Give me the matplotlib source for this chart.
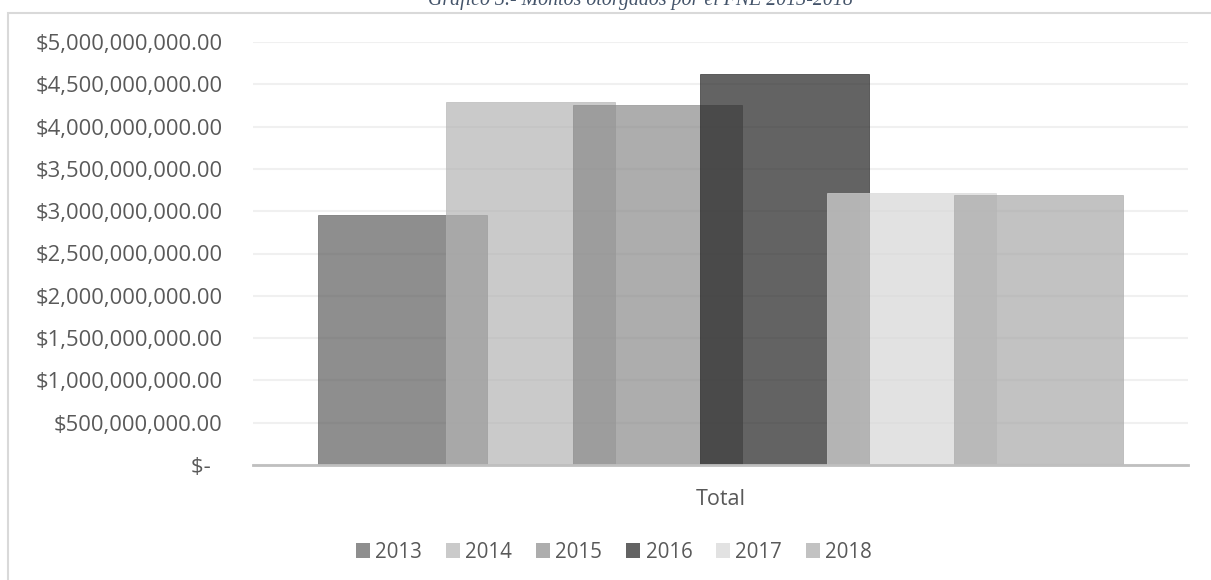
import matplotlib.pyplot as plt
import matplotlib.patches as mpatches
from matplotlib.ticker import FuncFormatter

years = ["2013", "2014", "2015", "2016", "2017", "2018"]
montos = [2.95e9, 4.29e9, 4.25e9, 4.62e9, 3.215e9, 3.195e9]
colores = ["#5e5e5e", "#b4b4b4", "#8a8a8a", "#212121", "#d7d7d7", "#a8a8a8"]
categoria = "Total"
yticks = [0, 5e8, 1e9, 1.5e9, 2e9, 2.5e9, 3e9, 3.5e9, 4e9, 4.5e9, 5e9]
titulo = "Gráfico 3.- Montos otorgados por el FNE 2013-2018"

TEXT_C = "#595959"
plt.rcParams['font.family'] = ['Open Sans', 'DejaVu Sans']

W, H = 1211, 580
fig = plt.figure(figsize=(W / 100, H / 100), dpi=100)
ax = fig.add_axes([253 / W, 1 - 465 / H, (1188 - 253) / W, (465 - 42) / H])

# clustered bars, overlapping and semi transparent
ancho = 169 / 935
paso = 127 / 935
for i, (y, v, c) in enumerate(zip(years, montos, colores)):
    ax.bar((i - 2.5) * paso, v, width=ancho, color=c, alpha=0.7, label=y,
           edgecolor=c, linewidth=0.6, zorder=2)

ax.set_xlim(-0.5, 0.5)
ax.set_ylim(0, 5e9)
ax.set_yticks(yticks)
ax.yaxis.set_major_formatter(FuncFormatter(
    lambda v, p: "$-  " if v == 0 else "${:,.2f}".format(v)))
ax.set_xticks([0])
ax.set_xticklabels([categoria])

for s in ["top", "right", "left"]:
    ax.spines[s].set_visible(False)
ax.spines["bottom"].set_color("#bfbfbf")
ax.spines["bottom"].set_linewidth(2)
ax.spines["bottom"].set_zorder(3)

ax.grid(axis="y", color="#f0f0f0", linewidth=1.5, zorder=0)
ax.tick_params(axis="y", length=0, pad=22, labelsize=15.8, labelcolor=TEXT_C)
ax.tick_params(axis="x", length=0, pad=17, labelsize=15.5, labelcolor=TEXT_C)

handles = [mpatches.Patch(facecolor=c, alpha=0.7, label=y) for y, c in zip(years, colores)]
fig.legend(handles=handles, loc="center", bbox_to_anchor=(614 / W, 1 - 552 / H),
           ncol=6, frameon=False, fontsize=14.8, labelcolor=TEXT_C,
           handlelength=0.7, handleheight=0.7, handletextpad=0.25, columnspacing=1.15)

# chart frame
fig.patches.append(mpatches.Rectangle((8 / W, -0.05), 1.1, 1 - 13 / H + 0.05,
                                      transform=fig.transFigure, fill=False,
                                      edgecolor="#d9d9d9", linewidth=1.5))

fig.text(640 / W, 1 - 5 / H, titulo, ha="center", va="baseline",
         family="Liberation Serif", style="italic", fontsize=14.3, color="#44546a")

plt.savefig("out.png", dpi=100)
